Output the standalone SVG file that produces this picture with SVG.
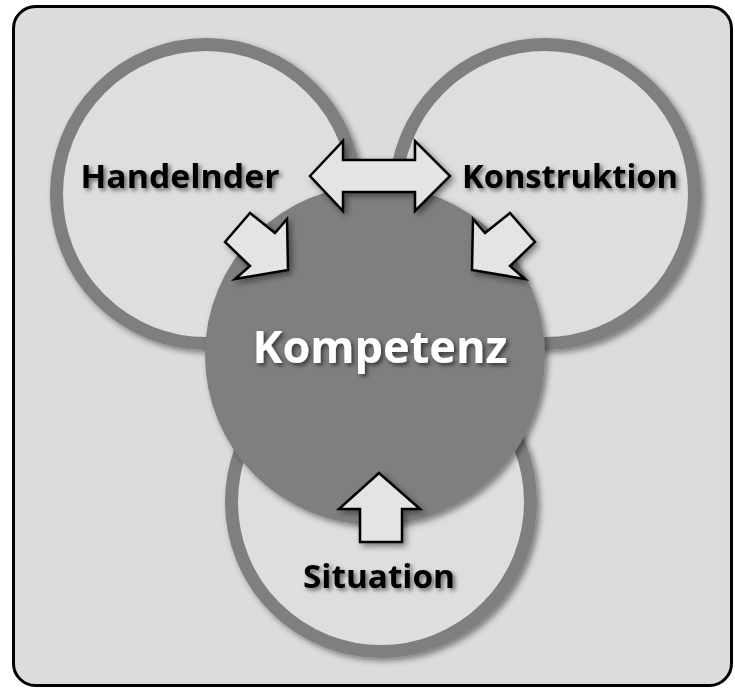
<svg xmlns="http://www.w3.org/2000/svg" width="735" height="688" viewBox="0 0 735 688">
<defs>
<filter id="sh" x="-20%" y="-20%" width="140%" height="140%">
<feDropShadow dx="3" dy="3" stdDeviation="3" flood-color="#000" flood-opacity="0.45"/>
</filter>
<filter id="tsh" x="-20%" y="-40%" width="140%" height="180%">
<feDropShadow dx="2.5" dy="2.5" stdDeviation="2" flood-color="#000" flood-opacity="0.55"/>
</filter>
</defs>
<style>
.ring{fill:#dedede;stroke:#7f7f7f;stroke-width:13}
.arrow{fill:#e4e4e4;stroke:#000;stroke-width:2.5;stroke-linejoin:miter}
.lbl{font-family:"Open Sans","Noto Sans",sans-serif;font-weight:bold;font-size:33px;fill:#000;text-anchor:middle}
.main{font-family:"Open Sans","Noto Sans",sans-serif;font-weight:bold;font-size:44px;fill:#fff;text-anchor:middle}
</style>
<rect id="frame" x="13.5" y="6.5" width="718" height="679" rx="22" ry="22" fill="#dcdcdc" stroke="#000" stroke-width="3"/>
<g id="handelnder">
<circle class="ring" cx="206" cy="194" r="149.5" filter="url(#sh)"/>
</g>
<g id="konstruktion">
<circle class="ring" cx="545" cy="194" r="149.5" filter="url(#sh)"/>
</g>
<g id="situation">
<circle class="ring" cx="381" cy="502" r="149.5" filter="url(#sh)"/>
</g>
<g id="kompetenz">
<circle cx="375" cy="355" r="170" fill="#7f7f7f" filter="url(#sh)"/>
</g>
<g id="connectors">
<polygon class="arrow" filter="url(#sh)" points="310,176 343,141 343,160 415,160 415,141 450,176 415,211 415,192 343,192 343,211"/>
<polygon class="arrow" filter="url(#sh)" points="225,242 250,213 275,233 287,219 288,270 235,279 250,266"/>
<polygon class="arrow" filter="url(#sh)" points="535,242 510,213 485,233 473,219 472,270 525,279 510,266"/>
<polygon class="arrow" filter="url(#sh)" points="379,473 420,509 402,509 402,542 360,542 360,509 339,509"/>
</g>
<g id="labels">
<text class="lbl" x="180" y="188" textLength="199" lengthAdjust="spacingAndGlyphs" filter="url(#tsh)">Handelnder</text>
<text class="lbl" x="570" y="188" textLength="216" lengthAdjust="spacingAndGlyphs" filter="url(#tsh)">Konstruktion</text>
<text class="lbl" x="379" y="588" textLength="152" lengthAdjust="spacingAndGlyphs" filter="url(#tsh)">Situation</text>
<text class="main" x="380" y="363" textLength="255" lengthAdjust="spacingAndGlyphs" filter="url(#tsh)">Kompetenz</text>
</g>
</svg>
